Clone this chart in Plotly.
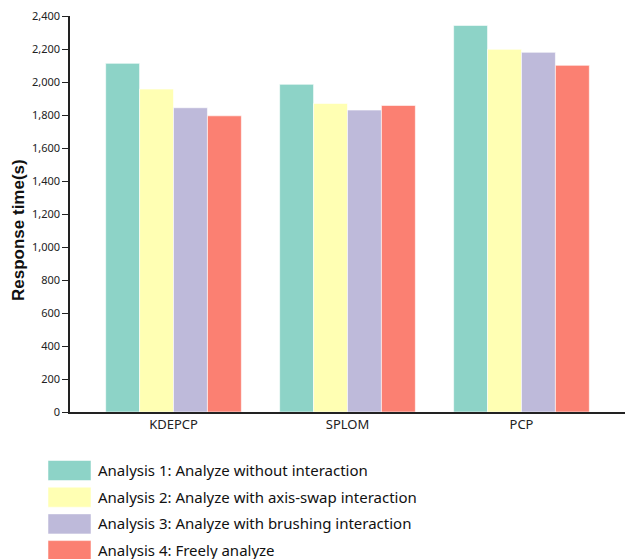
import plotly.graph_objects as go

categories = ["KDEPCP", "SPLOM", "PCP"]
series_names = [
    "Analysis 1: Analyze without interaction",
    "Analysis 2: Analyze with axis-swap interaction",
    "Analysis 3: Analyze with brushing interaction",
    "Analysis 4: Freely analyze",
]
analysis1 = [2113, 1986, 2343]
analysis2 = [1957, 1870, 2198]
analysis3 = [1844, 1830, 2180]
analysis4 = [1795, 1858, 2101]
colors = ["#8dd3c7", "#ffffb3", "#bebada", "#fb8072"]
y_ticks = [0, 200, 400, 600, 800, 1000, 1200, 1400, 1600, 1800, 2000, 2200, 2400]
y_title = "Response time(s)"

W, H = 625, 559
L, R, T, B = 70, 0, 16, 147
pw, ph = W - L - R, H - T - B

def px_x(x):
    return (x - L) / pw

def px_y(y):
    return (H - B - y) / ph

fig = go.Figure()
for name, vals, col in zip(series_names, [analysis1, analysis2, analysis3, analysis4], colors):
    fig.add_trace(go.Bar(
        x=categories, y=vals, name=name,
        marker=dict(color=col, line=dict(color="rgba(255,255,255,0.6)", width=1)),
        showlegend=False,
    ))

# custom legend with large swatches
shapes, annotations = [], []
for i, (name, col) in enumerate(zip(series_names, colors)):
    top = 460.5 + i * 26.7
    shapes.append(dict(type="rect", xref="paper", yref="paper",
                       x0=px_x(48), x1=px_x(91), y0=px_y(top + 20), y1=px_y(top),
                       fillcolor=col, line=dict(color="rgba(255,255,255,0.5)", width=1)))
    annotations.append(dict(xref="paper", yref="paper", x=px_x(96), y=px_y(top + 9.5),
                            text=name, showarrow=False, xanchor="left", yanchor="middle",
                            font=dict(family="Noto Sans, Open Sans, sans-serif", size=15, color="#111")))

# y-axis title placed to match the reference
annotations.append(dict(xref="paper", yref="paper", x=px_x(18), y=px_y(230),
                        text="<b>" + y_title + "</b>", textangle=-90, showarrow=False,
                        xanchor="center", yanchor="middle",
                        font=dict(family="Liberation Sans, Arial, sans-serif", size=17, color="#111")))

fig.update_layout(
    width=W, height=H,
    margin=dict(l=L, r=R, t=T, b=B),
    paper_bgcolor="white", plot_bgcolor="white",
    barmode="group", bargap=0.22, bargroupgap=0.0,
    shapes=shapes, annotations=annotations,
    font=dict(family="Noto Sans, Open Sans, sans-serif", color="#222"),
    xaxis=dict(
        range=[-0.595, 2.595], showline=True, linecolor="#222", linewidth=1.5,
        ticks="", showgrid=False, tickfont=dict(size=13, color="#222"),
        fixedrange=True,
    ),
    yaxis=dict(
        range=[0, 2400], tickvals=y_ticks, tickformat=",d",
        showline=True, linecolor="#222", linewidth=1.5,
        ticks="outside", ticklen=6, tickcolor="#222",
        showgrid=False, zeroline=False, tickfont=dict(size=11, color="#222"),
        fixedrange=True,
    ),
)

fig.write_html(
    "out.html",
    config={"displayModeBar": False},
    post_script="document.body.style.margin='0';document.body.style.overflow='hidden';",
)
